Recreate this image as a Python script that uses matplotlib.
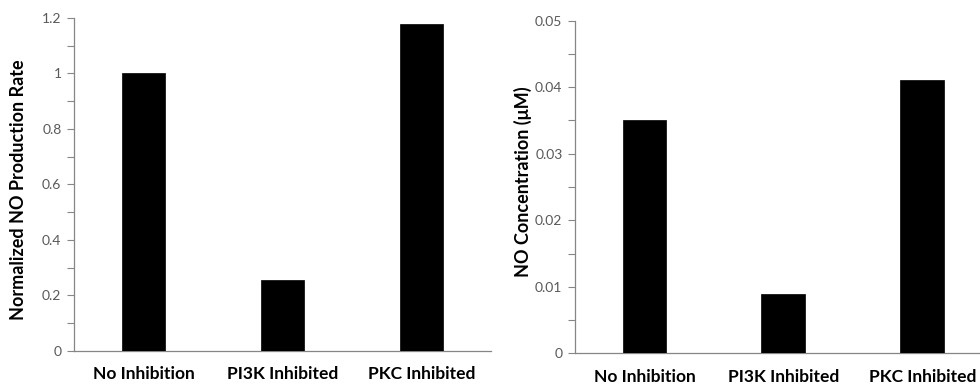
import matplotlib
matplotlib.use("Agg")
import matplotlib.pyplot as plt
from matplotlib.ticker import MultipleLocator

categories = ["No Inhibition", "PI3K Inhibited", "PKC Inhibited"]
rate_values = [1.0, 0.256, 1.177]
conc_values = [0.035, 0.0089, 0.0411]
rate_ticks = [0, 0.2, 0.4, 0.6, 0.8, 1, 1.2]
rate_ticklabels = ["0", "0.2", "0.4", "0.6", "0.8", "1", "1.2"]
conc_ticks = [0, 0.01, 0.02, 0.03, 0.04, 0.05]
conc_ticklabels = ["0", "0.01", "0.02", "0.03", "0.04", "0.05"]

SPINE = "#868686"
TICK = "#595959"
FONT = ["Lato", "DejaVu Sans"]

plt.rcParams["font.family"] = FONT

fig = plt.figure(figsize=(9.8, 3.86), dpi=100)
ax1 = fig.add_axes([0.0755, 0.0907, 0.4255, 0.8627])
ax2 = fig.add_axes([0.5867, 0.0847, 0.4255, 0.8617])


def style(ax, values, ticks, labels, minor, ylabel, top):
    x = range(len(categories))
    ax.bar(x, values, width=0.316, color="black", edgecolor="black", lw=0.5, zorder=3)
    ax.set_xlim(-0.5, 2.5)
    ax.set_ylim(0, top)
    ax.set_yticks(ticks)
    ax.set_yticklabels(labels)
    ax.yaxis.set_minor_locator(MultipleLocator(minor))
    ax.set_xticks(list(x))
    ax.set_xticklabels(categories, fontsize=12.5, fontweight="bold", color="black")
    ax.tick_params(axis="x", length=0, pad=11)
    ax.tick_params(axis="y", which="both", direction="out", length=5, width=0.8,
                   color=SPINE, labelsize=10, labelcolor=TICK, pad=4)
    for s in ("top", "right"):
        ax.spines[s].set_visible(False)
    for s in ("left", "bottom"):
        ax.spines[s].set_color(SPINE)
        ax.spines[s].set_linewidth(0.9)
    ax.set_ylabel(ylabel, fontsize=13, fontweight="bold", color="black")


style(ax1, rate_values, rate_ticks, rate_ticklabels, 0.1,
      "Normalized NO Production Rate", 1.2)
style(ax2, conc_values, conc_ticks, conc_ticklabels, 0.005,
      "NO Concentration (\u03bcM)", 0.05)
ax1.yaxis.set_label_coords(-0.112, 0.483)
ax2.yaxis.set_label_coords(-0.102, 0.516)

fig.savefig("out.png", dpi=100)
